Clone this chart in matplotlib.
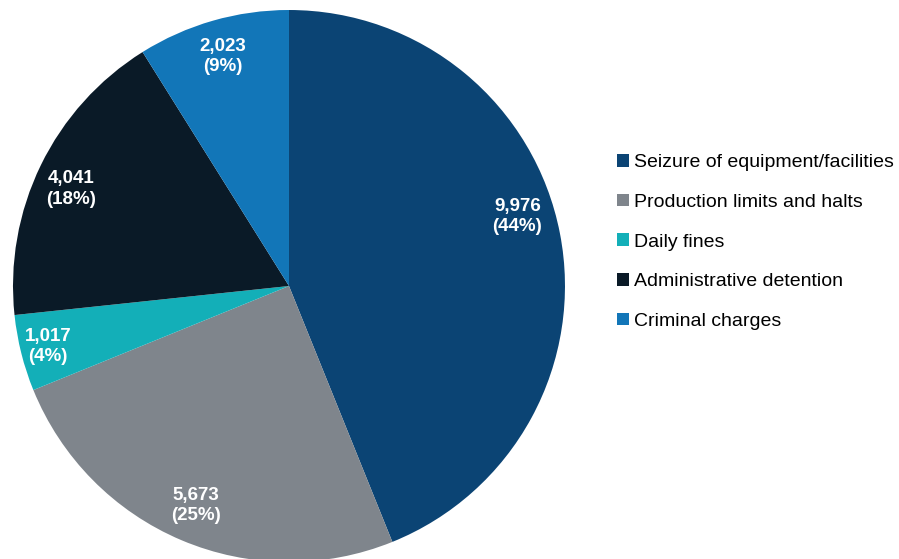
import matplotlib; matplotlib.use("Agg")
import matplotlib.pyplot as plt
from matplotlib.patches import Patch
import numpy as np

plt.rcParams["font.family"] = ["Liberation Sans", "DejaVu Sans"]

CATS = ["Seizure of equipment/facilities", "Production limits and halts", "Daily fines",
        "Administrative detention", "Criminal charges"]
VALUES = [9976, 5673, 1017, 4041, 2023]
PCTS = [44, 25, 4, 18, 9]
COLORS = ["#0B4474", "#7F858C", "#13AFB8", "#0A1A27", "#1276B8"]
LABEL_SHIFT = [6, 0, 0, 2, 0]   # degrees, nudges label off wedge middle like the original
LABEL_R = [0.865, 0.865, 0.90, 0.865, 0.865]

fig = plt.figure(figsize=(8.99, 5.59), dpi=100)
ax = fig.add_axes([0.01446, -0.00537, 0.614, 0.9875])
wedges, _ = ax.pie(VALUES, colors=COLORS, startangle=90, counterclock=False, radius=1,
                   wedgeprops=dict(linewidth=0))
for w, v, p, s, r in zip(wedges, VALUES, PCTS, LABEL_SHIFT, LABEL_R):
    a = np.deg2rad((w.theta1 + w.theta2) / 2 + s)
    ax.text(r*np.cos(a), r*np.sin(a), f"{v:,}\n({p}%)", ha="center", va="center",
            color="white", fontsize=13.5, fontweight="bold", linespacing=1.25)
ax.set_xlim(-1, 1); ax.set_ylim(-1, 1); ax.set_aspect("equal"); ax.axis("off")

handles = [Patch(facecolor=c, edgecolor="none") for c in COLORS]
fig.legend(handles, CATS, loc="upper left", bbox_to_anchor=(0.6863, 0.7245), frameon=False,
           fontsize=14, handlelength=0.62, handleheight=0.62, handletextpad=0.26, labelspacing=1.16,
           borderaxespad=0, borderpad=0)
fig.savefig("out.png", dpi=100)
